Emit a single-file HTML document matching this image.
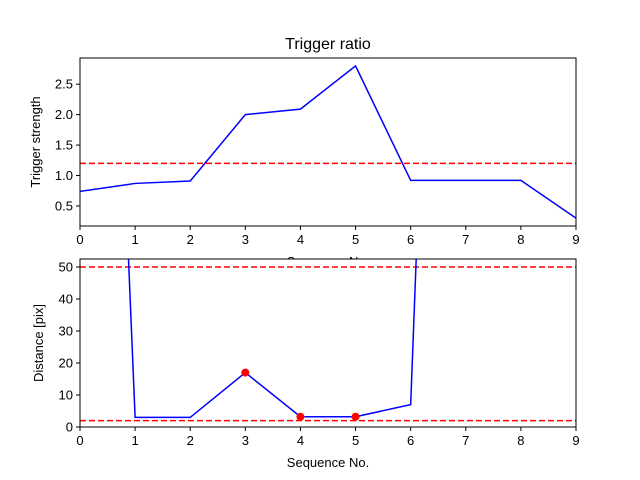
<!DOCTYPE html>
<html><head><style>body{margin:0;background:#fff}svg{display:block;font-family:"Liberation Sans","DejaVu Sans",sans-serif}</style></head>
<body>
<svg id="c" width="640" height="480"></svg>
<script>
const seq=[0,1,2,3,4,5,6,7,8,9];
const strength=[0.74,0.87,0.91,2.0,2.09,2.8,0.92,0.92,0.92,0.3];
const strengthThreshold=1.2;
const distance=[415,3,3,17,3.2,3.2,7,460,460,460];
const markedIdx=[3,4,5];
const distThresholds=[50,2];
const xTicks=[0,1,2,3,4,5,6,7,8,9];
const yTicksTop=[0.5,1.0,1.5,2.0,2.5];
const yTicksBot=[0,10,20,30,40,50];
const NS='http://www.w3.org/2000/svg';
const svg=document.getElementById('c');
function el(t,a,p){const e=document.createElementNS(NS,t);for(const k in a)e.setAttribute(k,a[k]);(p||svg).appendChild(e);return e;}
const X0=80,X1=576;
const xs=v=>X0+(v-0)/(9-0)*(X1-X0);
function panel(name,top,bot,ymin,ymax,yt,fmt){
  const ys=v=>bot-(v-ymin)/(ymax-ymin)*(bot-top);
  const g=el('g',{});
  el('rect',{x:X0,y:top,width:X1-X0,height:bot-top,fill:'#fff'},g);
  const cid=name+'-clip';const cp=el('clipPath',{id:cid},g);el('rect',{x:X0,y:top,width:X1-X0,height:bot-top},cp);
  const plot=el('g',{'clip-path':'url(#'+cid+')'},g);
  xTicks.forEach(t=>{el('line',{x1:xs(t),x2:xs(t),y1:bot,y2:bot+4,stroke:'#000'},g);
    const tx=el('text',{x:xs(t),y:bot+18,'text-anchor':'middle','font-size':13},g);tx.textContent=t;
    });
  yt.forEach(t=>{el('line',{x1:X0-4,x2:X0,y1:ys(t),y2:ys(t),stroke:'#000'},g);
    const tx=el('text',{x:X0-7,y:ys(t)+4.5,'text-anchor':'end','font-size':13},g);tx.textContent=fmt(t);
    });
  return {g,plot,ys};
}
// top
const A=panel('trigger-panel',58,226,0.171,2.93,yTicksTop,t=>t.toFixed(1));
let l=el('line',{x1:X0,x2:X1,y1:A.ys(strengthThreshold),y2:A.ys(strengthThreshold),stroke:'#f00','stroke-width':1.5,'stroke-dasharray':'6,3'},A.plot);

let p=el('polyline',{points:seq.map((s,i)=>xs(s)+','+A.ys(strength[i])).join(' '),fill:'none',stroke:'#00f','stroke-width':1.5},A.plot);

el('rect',{x:X0,y:58,width:X1-X0,height:168,fill:'none',stroke:'#000'},A.g);
let t=el('text',{x:328,y:49,'text-anchor':'middle','font-size':16},A.g);t.textContent='Trigger ratio';

t=el('text',{x:0,y:0,'text-anchor':'middle','font-size':13,transform:'translate(40,142) rotate(-90)'},A.g);t.textContent='Trigger strength';

t=el('text',{x:328,y:266,'text-anchor':'middle','font-size':13},A.g);t.textContent='Sequence No.';

// bottom
const B=panel('distance-panel',259,427,0,52.5,yTicksBot,t=>t);
distThresholds.forEach(v=>{const q=el('line',{x1:X0,x2:X1,y1:B.ys(v),y2:B.ys(v),stroke:'#f00','stroke-width':1.5,'stroke-dasharray':'6,3'},B.plot);
  });
p=el('polyline',{points:seq.map((s,i)=>xs(s)+','+B.ys(distance[i])).join(' '),fill:'none',stroke:'#00f','stroke-width':1.5},B.plot);

markedIdx.forEach(i=>{const c=el('circle',{cx:xs(seq[i]),cy:B.ys(distance[i]),r:4,fill:'#f00'},B.plot);
  });
el('rect',{x:X0,y:259,width:X1-X0,height:168,fill:'none',stroke:'#000'},B.g);
t=el('text',{x:0,y:0,'text-anchor':'middle','font-size':13,transform:'translate(43,343) rotate(-90)'},B.g);t.textContent='Distance [pix]';

t=el('text',{x:328,y:467,'text-anchor':'middle','font-size':13},B.g);t.textContent='Sequence No.';

</script>
</body></html>
